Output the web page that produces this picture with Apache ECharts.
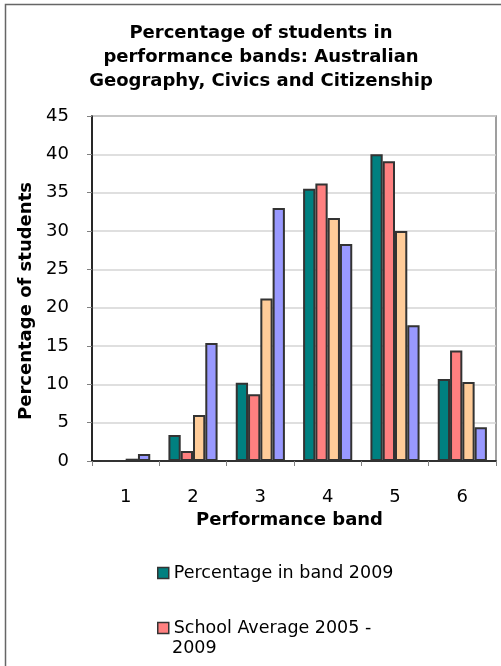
<!DOCTYPE html>
<html>
<head>
<meta charset="utf-8">
<script src="https://cdn.jsdelivr.net/npm/echarts@6/dist/echarts.min.js"></script>
<style>
html,body{margin:0;padding:0;background:#fff;}
#chart{width:501px;height:666px;}
</style>
</head>
<body>
<div id="chart"></div>
<script>
var categories = ['1', '2', '3', '4', '5', '6'];
var band2009 = [0, 3.4, 10.2, 35.5, 40.0, 10.7];
var schoolAvg = [0, 1.3, 8.7, 36.2, 39.1, 14.4];
var series3 = [0.3, 6.0, 21.2, 31.7, 30.0, 10.3];
var series4 = [0.9, 15.4, 33.0, 28.3, 17.7, 4.4];
var yTicks = [0, 5, 10, 15, 20, 25, 30, 35, 40, 45];

var seriesNames = ['Percentage in band 2009', 'School Average 2005 - 2009', 'Series 3', 'Series 4'];
var seriesColors = ['#008080', '#FF8080', '#FFCC99', '#9999FF'];
var seriesData = [band2009, schoolAvg, series3, series4];

var FONT = '"DejaVu Sans", "Liberation Sans", Arial, sans-serif';
var chart = echarts.init(document.getElementById('chart'));

var series = seriesData.map(function (d, i) {
  return {
    name: seriesNames[i],
    type: 'bar',
    data: d,
    barGap: '0%',
    barCategoryGap: '27%',
    itemStyle: { color: seriesColors[i], borderColor: '#333333', borderWidth: 2 },
    emphasis: { disabled: true }
  };
});

chart.setOption({
  animation: false,
  textStyle: { fontFamily: FONT },
  title: {
    text: 'Percentage of students in\nperformance bands: Australian\nGeography, Civics and Citizenship',
    left: 256, top: 16, textAlign: 'center',
    textStyle: { fontFamily: FONT, fontSize: 18, fontWeight: 'bold', color: '#000', lineHeight: 24 }
  },
  graphic: [{
    type: 'rect', shape: { x: 5.5, y: 4.5, width: 700, height: 800 },
    style: { fill: 'none', stroke: '#666', lineWidth: 1.5 }, silent: true
  }, {
    type: 'text', left: 172, top: 639,
    style: { text: '2009', font: '17.5px ' + FONT, fill: '#000' }, silent: true
  }],
  legend: [{
    data: [seriesNames[0]],
    orient: 'vertical', left: 157, top: 564, padding: 0,
    itemWidth: 11, itemHeight: 11, itemGap: 10,
    icon: 'rect',
    itemStyle: { borderColor: '#333', borderWidth: 1.5 },
    textStyle: { fontFamily: FONT, fontSize: 17.5, color: '#000' }
  }, {
    data: [seriesNames[1]],
    orient: 'vertical', left: 157, top: 619, padding: 0,
    itemWidth: 11, itemHeight: 11,
    icon: 'rect',
    itemStyle: { borderColor: '#333', borderWidth: 1.5 },
    formatter: function (n) { return 'School Average 2005 -'; },
    textStyle: { fontFamily: FONT, fontSize: 17.5, color: '#000' }
  }],
  grid: {
    left: 92, right: 5, top: 116, bottom: 205,
    show: true, borderColor: '#808080', borderWidth: 1.5
  },
  xAxis: {
    type: 'category', data: categories,
    name: 'Performance band', nameLocation: 'middle', nameGap: 44,
    nameTextStyle: { fontFamily: FONT, fontSize: 18, fontWeight: 'bold', color: '#000', padding: [0, 9, 0, 0] },
    axisLine: { lineStyle: { color: '#000', width: 1.5 } },
    axisTick: { show: true, length: 5, lineStyle: { color: '#808080' } },
    axisLabel: { fontFamily: FONT, fontSize: 18, color: '#000', margin: 27 }
  },
  yAxis: {
    type: 'value', min: 0, max: 45, interval: 5,
    name: 'Percentage of students', nameLocation: 'middle', nameGap: 49,
    nameTextStyle: { fontFamily: FONT, fontSize: 18, fontWeight: 'bold', color: '#000', padding: [0, 25, 0, 0] },
    axisLine: { show: true, lineStyle: { color: '#000', width: 1.5 } },
    axisTick: { show: true, length: 5, lineStyle: { color: '#808080' } },
    axisLabel: {
      fontFamily: FONT, fontSize: 18, color: '#000', margin: 23,
      formatter: function (v) { return yTicks.indexOf(v) >= 0 ? String(v) : ''; }
    },
    splitLine: { lineStyle: { color: '#d4d4d4', width: 1.5 } }
  },
  series: series
});
</script>
</body>
</html>
